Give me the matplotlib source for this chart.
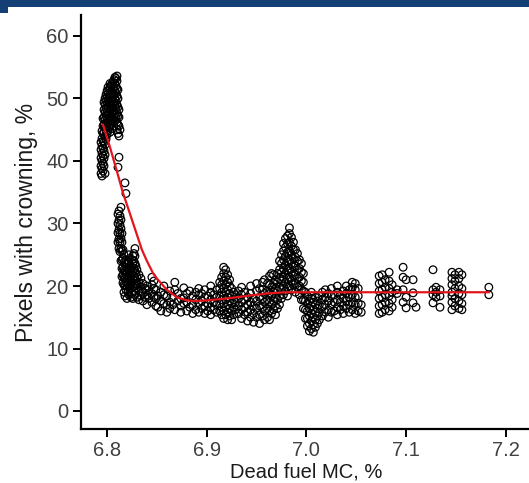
import numpy as np
import matplotlib.pyplot as plt
from matplotlib.patches import Rectangle

plt.rcParams['font.family'] = ['Liberation Sans', 'DejaVu Sans']

# scatter columns: x (dead fuel MC, %) and the y values (% pixels with crowning) at that x
col_x = [6.794, 6.795, 6.796, 6.797, 6.798, 6.799, 6.800, 6.801, 6.802, 6.803,
         6.804, 6.805, 6.806, 6.807, 6.808, 6.809, 6.810, 6.811, 6.812, 6.813,
         6.814, 6.815, 6.816, 6.817, 6.818, 6.819, 6.820, 6.821, 6.822, 6.823,
         6.824, 6.825, 6.826, 6.827, 6.828, 6.829, 6.830, 6.832, 6.834, 6.836,
         6.838, 6.840, 6.842, 6.845, 6.847, 6.849, 6.851, 6.854, 6.857, 6.860,
         6.863, 6.866, 6.868, 6.871, 6.874, 6.877, 6.880, 6.883, 6.886, 6.889,
         6.892, 6.895, 6.898, 6.901, 6.904, 6.907, 6.910, 6.913, 6.915, 6.917,
         6.919, 6.921, 6.923, 6.925, 6.927, 6.929, 6.932, 6.935, 6.938, 6.941,
         6.944, 6.947, 6.950, 6.953, 6.956, 6.958, 6.961, 6.963, 6.965, 6.967,
         6.969, 6.971, 6.973, 6.975, 6.977, 6.979, 6.981, 6.983, 6.985, 6.987,
         6.989, 6.991, 6.993, 6.995, 6.997, 6.999, 7.001, 7.003, 7.005, 7.007,
         7.009, 7.011, 7.013, 7.016, 7.019, 7.022, 7.025, 7.028, 7.031, 7.034,
         7.037, 7.040, 7.043, 7.046, 7.049, 7.052, 7.055, 7.073, 7.076, 7.079,
         7.083, 7.086, 7.091, 7.097, 7.100, 7.107, 7.110, 7.127, 7.130, 7.134,
         7.146, 7.149, 7.153, 7.156, 7.183]

col_y = [
    [38.0, 39.2, 40.5, 41.8, 43.0],
    [37.6, 38.8, 40.0, 41.2, 42.4, 43.6, 44.8],
    [38.4, 39.6, 40.8, 42.0, 43.2, 44.4, 45.6, 46.8],
    [39.2, 40.4, 41.6, 43.0, 44.6, 45.8, 47.0, 48.2, 49.4],
    [38.0, 41.0, 42.6, 44.0, 45.4, 46.6, 47.8, 49.0, 50.0],
    [43.5, 44.8, 46.0, 47.2, 48.4, 49.6, 50.6],
    [44.2, 45.4, 46.6, 47.8, 49.0, 50.2, 51.2],
    [44.8, 46.0, 47.2, 48.4, 49.6, 50.8, 51.8],
    [45.4, 46.6, 47.8, 49.0, 50.2, 51.4],
    [44.6, 45.8, 47.0, 48.2, 49.4, 50.6, 51.8, 52.4],
    [46.0, 47.2, 48.4, 49.6, 50.8, 52.0],
    [45.2, 46.4, 47.6, 48.8, 50.0, 51.2, 52.4],
    [46.8, 48.0, 49.2, 50.4, 51.6, 52.6],
    [45.6, 47.0, 48.2, 49.4, 50.6, 51.8, 53.0],
    [46.4, 47.6, 48.8, 50.0, 51.2, 52.4, 53.4],
    [47.0, 48.4, 49.6, 50.8, 52.0, 53.2],
    [45.0, 46.2, 47.6, 49.0, 50.4, 51.6, 52.8, 53.6],
    [27.0, 28.5, 30.0, 31.5, 39.0, 44.4, 45.8, 47.2, 48.6, 50.0, 51.4],
    [26.0, 27.5, 29.0, 30.5, 32.0, 40.6, 44.0, 45.6, 47.0, 48.2],
    [25.5, 27.0, 28.4, 29.8, 31.2, 45.0],
    [24.0, 26.0, 27.6, 29.2, 30.6, 32.6],
    [21.5, 22.8, 24.2, 25.6, 27.0, 28.4],
    [20.5, 21.8, 23.0, 24.4, 25.8],
    [19.0, 20.2, 21.4, 22.6, 23.8, 25.0],
    [18.4, 20.0, 21.2, 22.4, 23.6, 36.5],
    [19.4, 20.6, 21.8, 23.0, 24.2, 34.8],
    [18.0, 20.0, 21.2, 22.4, 23.6],
    [19.0, 20.4, 21.6, 22.8, 24.0],
    [18.6, 20.0, 21.4, 22.6, 23.8, 25.0],
    [19.6, 20.8, 22.0, 23.2, 24.4],
    [18.2, 20.2, 21.4, 22.6],
    [19.0, 20.6, 21.8, 23.0, 24.2],
    [18.0, 20.0, 21.2, 22.4, 23.6, 24.8],
    [19.2, 20.4, 21.6, 22.8, 24.0, 25.2],
    [18.6, 20.0, 21.2, 22.4, 23.6, 24.8, 26.0],
    [19.6, 20.8, 22.0, 23.2],
    [18.2, 20.2, 21.4, 22.6],
    [17.8, 19.2, 20.6, 21.8],
    [18.4, 19.8, 21.2],
    [17.6, 19.0, 20.4],
    [18.2, 19.6],
    [17.0, 18.6, 20.0],
    [18.0, 19.4],
    [17.4, 18.8, 20.2, 21.4],
    [18.2, 19.6, 20.8],
    [16.8, 18.0, 19.4],
    [16.6, 18.4],
    [16.0, 17.6, 19.0],
    [17.2, 18.6, 20.0],
    [15.8, 17.0, 18.4],
    [16.4, 17.4, 19.2],
    [17.0, 18.2],
    [16.2, 19.4, 20.6],
    [17.6, 18.8],
    [15.8, 16.8, 18.0],
    [17.2, 18.1, 19.7],
    [16.0, 17.4, 18.8],
    [16.6, 19.2],
    [15.6, 17.0, 18.4],
    [16.2, 17.8, 19.0],
    [15.8, 17.2, 18.6, 19.6],
    [16.4, 17.6, 18.8],
    [15.6, 16.8, 18.2, 19.4],
    [16.0, 17.2, 18.4],
    [15.4, 16.6, 17.8, 19.0, 20.0],
    [16.2, 17.4, 18.6],
    [15.8, 17.0, 18.2, 19.4],
    [16.0, 17.2, 18.4, 19.6, 20.6],
    [15.4, 16.6, 17.8, 19.0, 20.2, 21.4],
    [14.8, 16.0, 17.2, 18.4, 19.6, 20.8, 22.0, 23.0],
    [15.4, 16.6, 17.8, 19.0, 20.2, 21.4, 22.6],
    [14.6, 15.8, 17.0, 18.2, 19.4, 20.6, 21.8],
    [15.2, 16.4, 17.6, 18.8, 20.0, 21.0],
    [14.6, 16.0, 17.2, 18.4, 19.6],
    [15.4, 16.6, 17.8, 19.0],
    [16.2, 17.4, 18.6],
    [15.6, 16.8, 18.0, 19.2],
    [14.8, 16.2, 17.4, 18.6, 19.8],
    [15.4, 16.6, 17.8, 19.0],
    [14.4, 15.8, 17.0, 18.2],
    [15.0, 16.2, 17.4, 18.8, 20.0],
    [14.2, 15.6, 16.8, 18.0],
    [15.0, 16.4, 17.6, 19.2, 20.4],
    [14.0, 15.4, 16.8, 18.2, 19.6],
    [15.2, 16.6, 18.0, 19.4, 20.6],
    [14.6, 16.0, 17.4, 18.8, 21.0],
    [15.0, 16.4, 17.8, 19.2, 20.4],
    [14.6, 16.0, 17.4, 18.8, 20.2, 21.6],
    [15.6, 17.0, 18.4, 19.8, 22.0],
    [16.2, 17.6, 19.0, 20.4, 21.8],
    [15.4, 16.8, 18.2, 19.6, 21.0],
    [16.4, 17.8, 19.2, 20.6, 22.0],
    [17.0, 18.4, 19.8, 21.2, 22.6, 24.0],
    [18.0, 19.4, 20.8, 22.2, 23.6, 25.0],
    [18.6, 20.0, 21.4, 22.8, 24.2, 25.6, 26.8],
    [19.2, 20.6, 22.0, 23.4, 24.8, 26.2, 27.6],
    [18.4, 19.8, 21.2, 22.6, 24.0, 25.4, 26.8, 28.0],
    [20.0, 21.4, 22.8, 24.2, 25.6, 27.0, 28.4, 29.3],
    [19.4, 20.8, 22.2, 23.6, 25.0, 26.4, 27.8],
    [20.2, 21.6, 23.0, 24.4, 25.8, 27.0],
    [19.0, 20.4, 21.8, 23.2, 24.6, 25.8],
    [19.8, 21.2, 22.6, 24.0, 25.2],
    [18.6, 20.0, 21.4, 22.8, 24.2],
    [17.8, 19.4, 20.8, 22.2, 23.6],
    [16.4, 17.8, 19.2, 20.6, 22.0],
    [14.8, 16.2, 17.6, 19.0],
    [13.6, 14.8, 16.0, 17.2, 18.4],
    [12.8, 14.0, 15.2, 16.4, 17.6],
    [13.2, 14.4, 15.6, 16.8, 18.0, 19.0],
    [12.6, 13.8, 15.0, 16.2, 17.4],
    [13.4, 14.6, 15.8, 17.0, 18.2],
    [14.0, 15.2, 16.4, 17.6],
    [14.6, 15.8, 17.0, 18.4],
    [15.2, 16.6, 17.8, 19.0],
    [15.8, 17.0, 18.2, 19.4],
    [15.0, 16.2, 17.6, 18.8],
    [15.8, 17.0, 18.4, 19.6],
    [16.0, 17.4, 18.6],
    [15.4, 16.6, 17.8, 19.0, 20.0],
    [16.2, 17.4, 18.6],
    [15.6, 16.8, 18.0, 19.2],
    [16.4, 17.6, 18.8, 20.0],
    [15.8, 17.0, 18.2, 19.4],
    [16.2, 17.4, 18.6, 19.8, 20.6],
    [15.6, 17.0, 18.2, 19.4, 20.4],
    [16.0, 17.2, 18.4, 19.6],
    [15.8, 17.0],
    [15.6, 16.8, 18.0, 19.2, 20.4, 21.6],
    [15.8, 17.0, 18.2, 19.4, 20.6, 21.8],
    [16.2, 17.4, 18.6, 19.8, 21.0],
    [16.0, 17.2, 18.4, 19.6, 20.8, 22.2],
    [16.6, 17.8, 19.0, 20.2],
    [18.8, 19.4],
    [17.4, 19.4, 21.4, 23.0],
    [16.5, 18.2, 21.0],
    [17.3, 18.9, 21.0],
    [16.6],
    [17.3, 18.6, 19.4, 22.6],
    [18.2, 19.0, 19.8],
    [16.6, 18.4, 19.4],
    [16.2, 17.4, 18.4, 19.0, 20.2, 21.2, 22.2],
    [16.8, 18.0, 19.6, 20.8, 21.8],
    [16.4, 17.6, 18.8, 20.0, 21.2, 22.2],
    [16.2, 17.2, 18.6, 19.6, 21.8],
    [18.6, 19.8],
]

# smoothed fit (red line)
fit_x = [6.796, 6.803, 6.81, 6.816, 6.82, 6.825, 6.83, 6.835, 6.84, 6.846, 6.85,
         6.86, 6.87, 6.88, 6.89, 6.90, 6.92, 6.94, 6.96, 6.98, 7.0, 7.05, 7.1,
         7.15, 7.183]
fit_y = [45.8, 42.2, 38.3, 34.9, 33.0, 30.6, 28.2, 25.8, 24.0, 22.1, 21.2,
         19.4, 18.2, 17.7, 17.6, 17.7, 18.0, 18.4, 18.8, 19.0, 19.0, 19.0, 19.0,
         19.0, 19.0]

x_ticks = [6.8, 6.9, 7.0, 7.1, 7.2]
y_ticks = [0, 10, 20, 30, 40, 50, 60]

px = []
py = []
for x, ys in zip(col_x, col_y):
    for y in ys:
        px.append(x)
        py.append(y)

W, H = 529, 483
fig = plt.figure(figsize=(W / 100, H / 100), dpi=100)

# blue banner strip across the top
fig.patches.append(Rectangle((0, (H - 7) / H), 1, 7 / H, transform=fig.transFigure,
                             facecolor='#143f74', edgecolor='none'))
fig.patches.append(Rectangle((0, (H - 13) / H), 8 / W, 6 / H, transform=fig.transFigure,
                             facecolor='#143f74', edgecolor='none'))

# axes run off the right edge of the picture, as in the cropped original
ax = fig.add_axes([81 / W, 54 / H, 450 / W, 414 / H])
ax.scatter(px, py, s=30, facecolors='none', edgecolors='black', linewidths=0.9, zorder=2)
ax.plot(fit_x, fit_y, color='#e3141c', lw=1.6, zorder=3)

ax.set_xlim(6.7739, 7.2253)
ax.set_ylim(-2.88, 63.36)
ax.set_xticks(x_ticks)
ax.set_xticklabels(['%.1f' % v for v in x_ticks])
ax.set_yticks(y_ticks)

for s in ['top', 'right']:
    ax.spines[s].set_visible(False)
for s in ['left', 'bottom']:
    ax.spines[s].set_linewidth(1.6)
ax.tick_params(direction='out', length=6, width=1.4, labelsize=14.5, labelcolor='#404040')
ax.tick_params(axis='x', pad=2.5)
ax.tick_params(axis='y', pad=3)

ax.set_xlabel('Dead fuel MC, %', fontsize=14.5, color='#1a1a1a')
ax.xaxis.label.set_va('baseline')
ax.xaxis.set_label_coords(0.5, (5 - 54) / 414)
ax.set_ylabel('Pixels with crowning, %', fontsize=16.5, color='#1a1a1a', labelpad=6)

fig.savefig('out.png', dpi=100)
